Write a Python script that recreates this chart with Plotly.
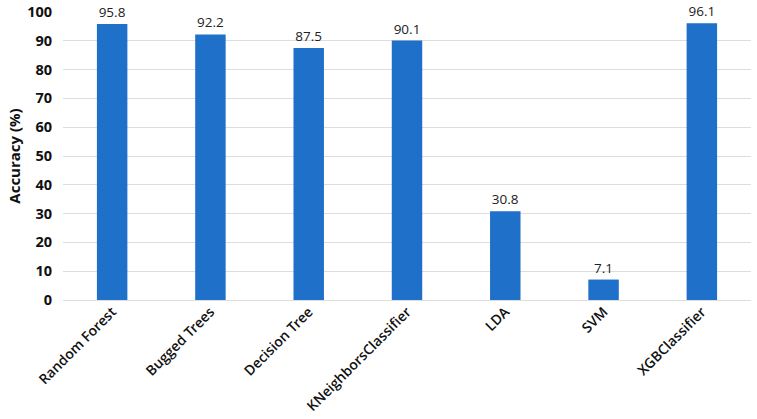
import plotly.graph_objects as go

categories = ["Random Forest", "Bugged Trees", "Decision Tree", "KNeighborsClassifier", "LDA", "SVM", "XGBClassifier"]
accuracy = [95.8, 92.2, 87.5, 90.1, 30.8, 7.1, 96.1]
y_ticks = [0, 10, 20, 30, 40, 50, 60, 70, 80, 90, 100]

fig = go.Figure(go.Bar(
    x=categories, y=accuracy,
    marker=dict(color="#1F70C9", line=dict(width=0)),
    width=0.31,
    text=[f"{v:.1f}" for v in accuracy],
    textposition="outside",
    textfont=dict(family="Open Sans, Liberation Sans, sans-serif", size=13.5, color="#222222"),
    cliponaxis=False,
))

fig.update_layout(
    width=757, height=419,
    margin=dict(l=63, r=6, t=12, b=119),
    paper_bgcolor="white", plot_bgcolor="white",
    showlegend=False,
    font=dict(family="Open Sans, Liberation Sans, sans-serif", color="#111111"),
)
fig.update_xaxes(
    tickangle=-45,
    tickfont=dict(size=14, family="Open Sans Semibold, Open Sans, sans-serif", weight="bold"),
    showgrid=False, showline=False, ticks="",
    automargin=False,
)
fig.update_yaxes(
    range=[0, 100], tickvals=y_ticks,
    showgrid=True, gridcolor="#DDDDDD", gridwidth=1,
    zeroline=True, zerolinecolor="#DDDDDD", zerolinewidth=1,
    tickfont=dict(size=14.5, weight="bold"),
    ticklabelstandoff=10,
    title=dict(text="Accuracy (%)", font=dict(size=15, weight="bold"), standoff=2),
    ticks="", showline=False,
    automargin=False,
)
fig.write_html("out.html", config={"displayModeBar": False},
               post_script="document.body.style.margin='0';")
